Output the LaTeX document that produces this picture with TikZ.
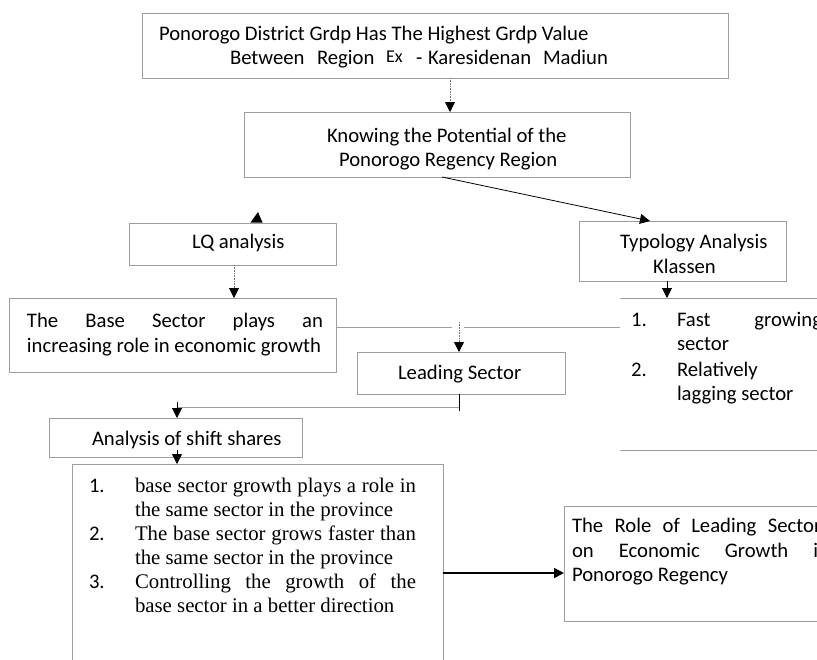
\documentclass[tikz,border=0pt]{standalone}
\usepackage{fontspec}
\setmainfont{Carlito}
\newfontfamily\serifx{Liberation Serif}
\usetikzlibrary{arrows.meta}
\begin{document}
\begin{tikzpicture}[x=1pt,y=-1pt,
  box/.style={draw=black!38, line width=0.9pt, anchor=north west, inner sep=0pt, outer sep=0pt},
  txt/.style={anchor=base west, inner sep=0pt, outer sep=0pt, font=\fontsize{20.7}{24.5}\selectfont},
  stxt/.style={anchor=base west, inner sep=0pt, outer sep=0pt, font=\serifx\fontsize{20.8}{24}\selectfont},
  tip/.style={-{Triangle[length=10pt,width=10pt,color=black]}},
  dotline/.style={draw=black!55, line width=0.8pt, dash pattern=on 1pt off 0.6pt},
  conn/.style={draw=black!38, line width=0.9pt},
  blk/.style={draw=black, line width=0.8pt},
]
\useasboundingbox (0,0) rectangle (817,659);
\clip (0,0) rectangle (817,659);
\fill[white] (0,0) rectangle (817,659);

% boxes
\node[box, minimum width=586pt, minimum height=65pt] (top) at (142,13) {};
\node[box, minimum width=386pt, minimum height=65pt] (know) at (244,112) {};
\node[box, minimum width=207pt, minimum height=42pt] (lq) at (129,223) {};
\node[box, minimum width=207pt, minimum height=60pt] (typ) at (579,221) {};
\node[box, minimum width=327pt, minimum height=74pt] (base) at (9,298) {};
\node[box, minimum width=208pt, minimum height=42pt] (lead) at (357,352) {};
\node[box, minimum width=253pt, minimum height=39pt] (ana) at (49,418) {};
\node[box, minimum width=266pt, minimum height=115pt] (role) at (564,506) {};

% open boxes (cut by the page edge)
\coordinate (bigNW) at (72,464);
\coordinate (bigNE) at (443,464);
\draw[conn] (72,680) -- (bigNW) -- (bigNE) -- (443,680);
\coordinate (tlTL) at (620,298);
\coordinate (tlBL) at (620,450);
\draw[conn] (tlTL) -- (830,298);
\draw[conn] (tlBL) -- (830,450);

% helper coordinates
\coordinate (xA) at (450,0);
\coordinate (xB) at (234,0);
\coordinate (xD) at (459,0);
\coordinate (xE) at (177,0);
\coordinate (xF) at (667,0);
\coordinate (kS) at (442,177);
\coordinate (tN) at (650,221);
\coordinate (yC) at (0,327);
\coordinate (gapL) at (452,327);
\coordinate (gapR) at (464,327);
\coordinate (dS) at (459,322);
\coordinate (lS) at (459,411);
\coordinate (hR) at (459,407);
\coordinate (hL) at (177,407);
\coordinate (vS) at (177,402);
\coordinate (aS) at (177,450);
\coordinate (yR) at (0,573);

% connectors
\draw[dotline, tip] (top.south -| xA) -- (know.north -| xA);
\draw[blk, tip] (kS) -- (tN);
\fill[black] (250.5,222.5) -- (262.5,222.5) -- (258,212) -- cycle;
\draw[dotline, tip] (lq.south -| xB) -- (base.north -| xB);
\draw[conn] (base.east |- yC) -- (gapL);
\draw[conn] (gapR) -- (tlTL |- yC);
\draw[dotline, tip] (dS) -- (lead.north -| xD);
\draw[blk] (lead.south -| xD) -- (lS);
\draw[conn] (hR) -- (hL);
\draw[blk, tip] (vS) -- (ana.north -| xE);
\draw[blk, tip] (aS) -- (bigNW -| xE);
\draw[blk, tip] (typ.south -| xF) -- (tlTL -| xF);
\draw[draw=black, line width=1.6pt, tip] (bigNE |- yR) -- (role.west |- yR);

% texts
\node[txt] (t1) at (159,40) {Ponorogo District Grdp Has The Highest Grdp Value};
\node[txt] (t2a) at (230,64) {Between};
\node[txt] (t2b) at (317,64) {Region};
\node[txt, font=\fontsize{18}{20}\selectfont] (t2c) at (386,62) {Ex};
\node[txt] (t2d) at (416,64) {-};
\node[txt] (t2e) at (428,64) {Karesidenan};
\node[txt] (t2f) at (543,64) {Madiun};

\node[txt] (k1) at (327,142) {Knowing the Potential of the};
\node[txt] (k2) at (339,166) {Ponorogo Regency Region};

\node[txt] (lqt) at (192,248) {LQ analysis};

\node[txt] (ty1) at (620,248) {Typology Analysis};
\node[txt] (ty2) at (653,273) {Klassen};

\node[txt] (b1) at (27,327) {\makebox[296pt][s]{The Base Sector plays an}};
\node[txt] (b2) at (27,352) {increasing role in economic growth};

\node[txt] (le) at (398,379) {Leading Sector};

\node[txt] (tn1) at (631,326) {1.};
\node[txt] (tl1) at (677,326) {\makebox[145pt][s]{Fast growing}};
\node[txt] (tl2) at (677,350) {sector};
\node[txt] (tn2) at (631,376) {2.};
\node[txt] (tl3) at (677,376) {Relatively};
\node[txt] (tl4) at (677,400) {lagging sector};

\node[txt] (an) at (92,445) {Analysis of shift shares};

\node[txt] (n1) at (89,492) {1.};
\node[stxt] (s1) at (135,492) {\makebox[281pt][s]{base sector growth plays a role in}};
\node[stxt] (s2) at (135,516) {the same sector in the province};
\node[txt] (n2) at (89,540) {2.};
\node[stxt] (s3) at (135,540) {\makebox[281pt][s]{The base sector grows faster than}};
\node[stxt] (s4) at (135,564) {the same sector in the province};
\node[txt] (n3) at (89,588) {3.};
\node[stxt] (s5) at (135,588) {\makebox[281pt][s]{Controlling the growth of the}};
\node[stxt] (s6) at (135,612) {base sector in a better direction};

\node[txt] (r1) at (572,532) {\makebox[257pt][s]{The Role of Leading Sectors}};
\node[txt] (r2) at (572,557) {\makebox[257pt][s]{on Economic Growth in}};
\node[txt] (r3) at (572,581) {Ponorogo Regency};
\end{tikzpicture}
\end{document}
